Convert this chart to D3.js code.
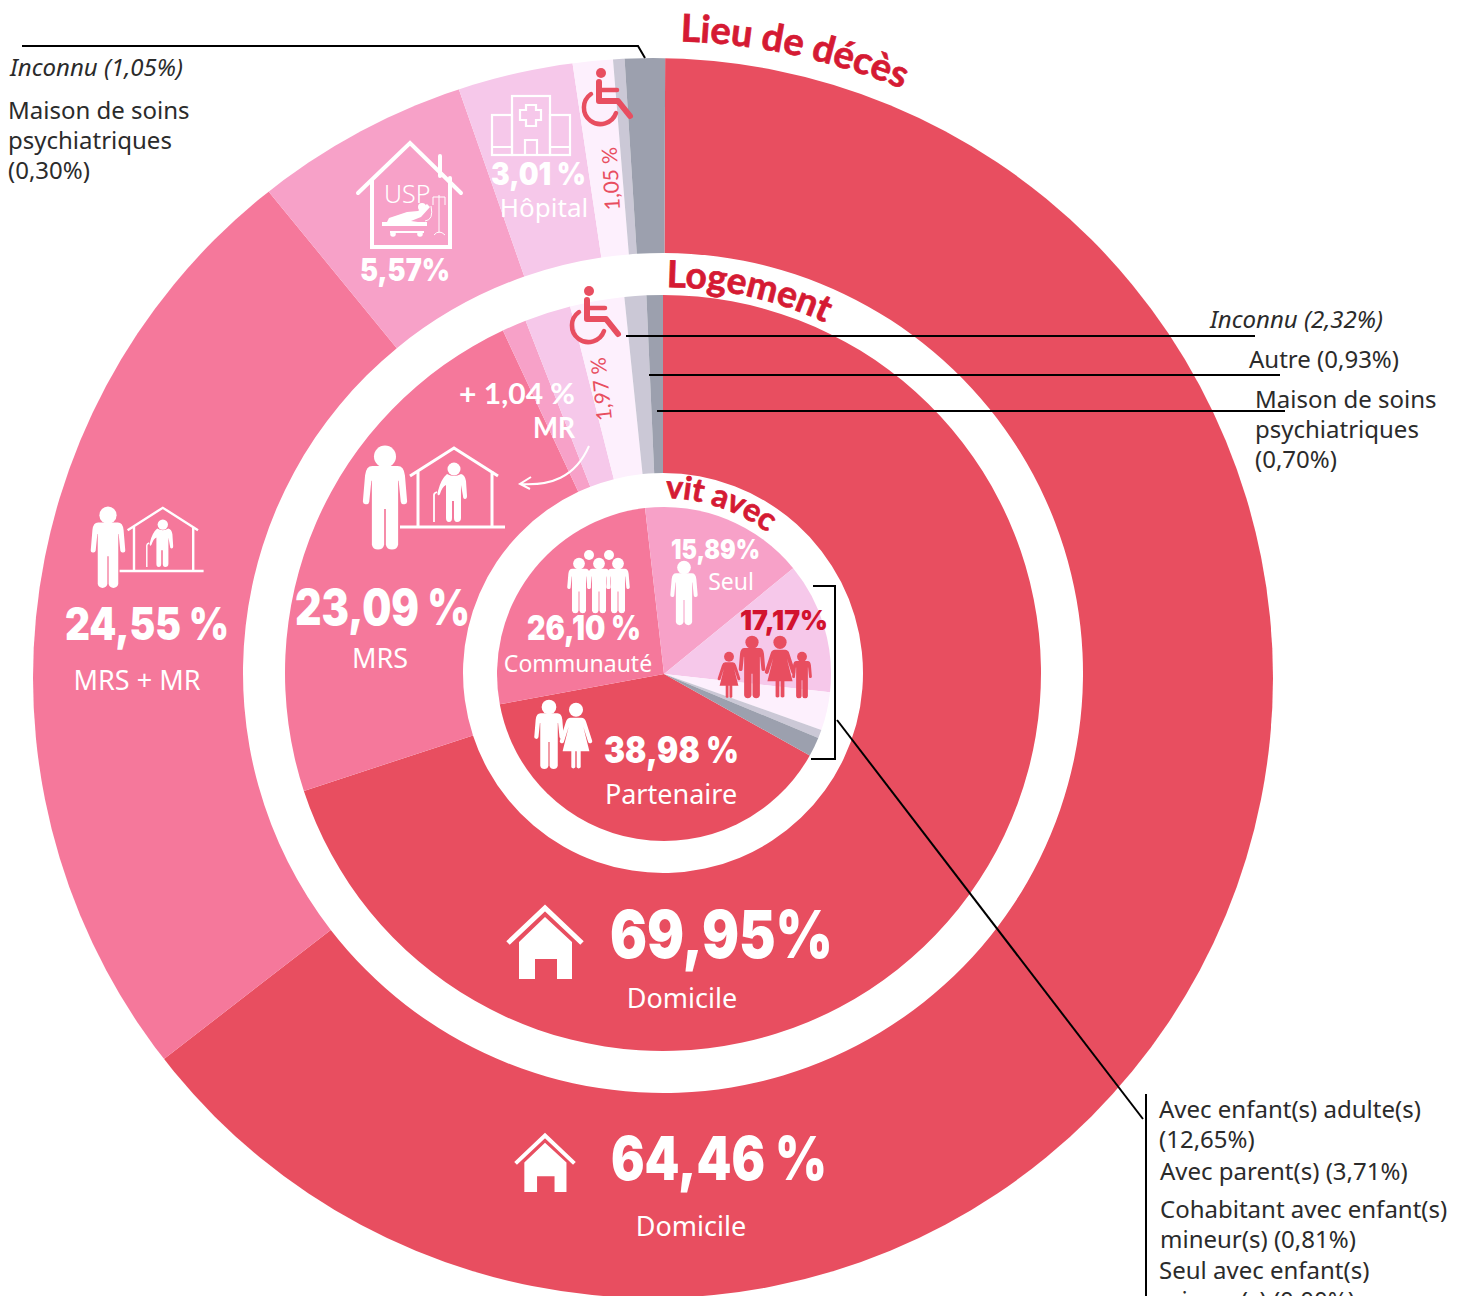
<!DOCTYPE html>
<html>
<head>
<meta charset="utf-8">
<title>Lieu de décès</title>
<script src="https://d3js.org/d3.v7.min.js"></script>
<style>
  body { margin: 0; background: white; overflow: hidden; }
  svg { display: block; }
  text { font-family: "Noto Sans", sans-serif; }
  .num { font-family: Inter, sans-serif; font-weight: 900; fill: white; }
  .lab { fill: white; }
  .note { fill: #2b2b2b; font-size: 24px; }
  .head { font-family: Lato, sans-serif; font-weight: 700; fill: #d51a33; stroke: #d51a33; stroke-width: 0.7; }
  .leader { stroke: black; stroke-width: 2; fill: none; }
</style>
</head>
<body>
<svg id="chart" width="1461" height="1296"></svg>
<script>
// lieu de deces, outer ring, clockwise from the top
const lieuValues = [64.46, 24.55, 5.57, 3.01, 1.05, 0.30, 1.05];
const lieuLabels = ["64,46 %", "24,55 %", "5,57%", "3,01 %", "1,05 %"];
const lieuNames = ["Domicile", "MRS + MR", "Hôpital"];

// logement, middle ring
const logementValues = [69.95, 23.09, 1.04, 1.97, 2.32, 0.93, 0.70];
const logementLabels = ["69,95%", "23,09 %", "+ 1,04 %", "1,97 %"];
const logementNames = ["Domicile", "MRS", "MR"];

// vit avec, inner pie, clockwise from the partenaire slice
// last value is the part the labels leave over
const vitValues = [38.98, 26.10, 15.89, 12.65, 3.71, 0.81, 1.86];
const vitLabels = ["38,98 %", "26,10 %", "15,89%", "17,17%"];
const vitNames = ["Partenaire", "Communauté", "Seul"];

const titles = ["Lieu de décès", "Logement", "vit avec"];
const notesLieu = ["Inconnu (1,05%)", "Maison de soins", "psychiatriques", "(0,30%)"];
const notesLogement = ["Inconnu (2,32%)", "Autre (0,93%)", "Maison de soins", "psychiatriques", "(0,70%)"];
const notesVit = ["Avec enfant(s) adulte(s)", "(12,65%)", "Avec parent(s) (3,71%)",
                  "Cohabitant avec enfant(s)", "mineur(s) (0,81%)", "Seul avec enfant(s)", "mineur(s) (0,00%)"];

const colors = ["#e84e60", "#f5789b", "#f7a1c8", "#f6c8ea", "#fdf0fd", "#cbc8d6", "#9ca0ae"];
const red = "#e84e60";
const darkRed = "#d2122e";

const svg = d3.select("#chart");
const cx = 663, cy = 673;
const deg = Math.PI / 180;

const ring = function(values, start, r0, r1, parent) {
    const pie = d3.pie().sort(null).startAngle(start * deg).endAngle(start * deg + 2 * Math.PI);
    const arc = d3.arc().innerRadius(r0).outerRadius(r1);
    parent.selectAll("path").data(pie(values))
        .join("path")
        .attr("d", arc)
        .attr("fill", (d, i) => colors[i]);
};

// outer ring is not concentric with the rest, so clip big wedges to its circle
svg.append("clipPath").attr("id", "outerClip")
    .append("circle").attr("cx", 653).attr("cy", 678).attr("r", 620);
const outer = svg.append("g").attr("clip-path", "url(#outerClip)")
    .append("g").attr("transform", `translate(${cx},${cy})`);
ring(lieuValues, 0.2, 420, 900, outer);

const middle = svg.append("g").attr("transform", `translate(${cx},${cy})`);
ring(logementValues, 0, 200, 378, middle);

const inner = svg.append("g").attr("transform", `translate(${cx + 1},${cy + 1})`);
ring(vitValues, 119.2, 0, 167, inner);

// ---- icons, drawn in their own little coordinate systems
const manBody = "M-12,19 L12,19 Q18,19 19,28 L21,52 A3,3 0 0 1 15,53 L13,33 L12.5,33 L12.5,94 A6,6 0 0 1 0.8,94 L0.8,60 L-0.8,60 L-0.8,94 A6,6 0 0 1 -12.5,94 L-12.5,33 L-13,33 L-15,53 A3,3 0 0 1 -21,52 L-19,28 Q-18,19 -12,19 Z";
const womanBody = "M-8,22 L8,22 Q13,22 15,28 L24,56 A3,3 0 0 1 18,58 L11,36 L20,72 L7,72 L7,96 A3.5,3.5 0 0 1 1,96 L1,72 L-1,72 L-1,96 A3.5,3.5 0 0 1 -7,96 L-7,72 L-20,72 L-11,36 L-18,58 A3,3 0 0 1 -24,56 L-15,28 Q-13,22 -8,22 Z";

const person = function(x, top, h, fill, body) {
    const g = svg.append("g").attr("transform", `translate(${x},${top}) scale(${h / 100})`).attr("fill", fill);
    g.append("circle").attr("cy", 10).attr("r", 10.5);
    g.append("path").attr("d", body || manBody);
};

const home = function(x, top, w) {
    const s = w / 78;
    const g = svg.append("g").attr("transform", `translate(${x},${top}) scale(${s})`);
    g.append("path").attr("fill", "none").attr("stroke", "white").attr("stroke-width", 5)
        .attr("d", "M-37,37 L0,2 L37,37");
    g.append("path").attr("fill", "white")
        .attr("d", "M0,11 L-26,36 L-26,73 L-10,73 L-10,53 L12,53 L12,73 L27,73 L27,36 Z");
};

const wheelchair = function(x, y) {
    const g = svg.append("g").attr("transform", `translate(${x},${y})`)
        .attr("fill", "none").attr("stroke", red).attr("stroke-width", 4.5).attr("stroke-linecap", "round").attr("stroke-linejoin", "round");
    g.append("circle").attr("cx", 1).attr("cy", -35).attr("r", 5).attr("fill", red).attr("stroke", "none");
    g.append("path").attr("stroke-width", 6).attr("d", "M-1,-26 L-1,-7 L18,-7 L30,8");
    g.append("path").attr("d", "M0,-18 L17,-18");
    g.append("path").attr("d", "M-9,-14 A16.5,16.5 0 1 0 16,5");
};

const elderHouse = function(x, y, s) {
    const g = svg.append("g").attr("transform", `translate(${x},${y}) scale(${s})`);
    g.append("path").attr("fill", "none").attr("stroke", "white").attr("stroke-width", 3)
        .attr("d", "M-43,29 L1,1 L45,29 M-35,24 L-35,80 M39,24 L39,80 M-53,80 L52,80");
    g.append("circle").attr("cx", 1).attr("cy", 22).attr("r", 6.5).attr("fill", "white");
    g.append("path").attr("fill", "white")
        .attr("d", "M-6,27 Q1,31 8,27 Q12,28 13,34 L14,49 Q14,52 12,52 Q10,52 10,49 L8,38 L8,71 Q8,75 4,75 Q1,75 1,71 L1,54 L-1,54 L-1,71 Q-1,75 -4,75 Q-7,75 -7,71 L-7,38 Q-11,40 -13,47 Q-14,49 -15,48 Q-16,47 -15,44 Q-12,32 -6,27 Z");
    g.append("path").attr("fill", "none").attr("stroke", "white").attr("stroke-width", 1.8)
        .attr("d", "M-19,75 L-19,48 Q-19,46 -16,45");
};

// big wedges, people and houses
home(545, 906, 78);
home(545, 1134, 62);
person(108, 507, 82, "white");
elderHouse(162, 507, 0.8);
person(385, 446, 105, "white");
elderHouse(453, 447, 1);
person(684, 561, 65, "white");

// communaute group, back row heads first
svg.selectAll("circle.back").data([589, 609]).join("circle").attr("class", "back")
    .attr("cx", d => d).attr("cy", 555).attr("r", 5).attr("fill", "white");
person(579, 558, 56, "white");
person(618, 558, 56, "white");
person(599, 558, 56, "white");

person(549, 700, 70, "white");
person(576, 703, 67, "white", womanBody);

person(752, 636, 63, red);
person(780, 636, 63, red, womanBody);
person(729, 652, 47, red, womanBody);
person(802, 652, 47, red);

wheelchair(600, 108);
wheelchair(588, 326);

// hospital
const hosp = svg.append("g").attr("fill", "none").attr("stroke", "white").attr("stroke-width", 2.2);
hosp.append("rect").attr("x", 512).attr("y", 96).attr("width", 38).attr("height", 59);
hosp.append("rect").attr("x", 492).attr("y", 115).attr("width", 20).attr("height", 40);
hosp.append("rect").attr("x", 550).attr("y", 115).attr("width", 20).attr("height", 40);
hosp.append("path").attr("d", "M492,147 L512,147 M550,147 L570,147 M525,155 L525,140 L537,140 L537,155");
hosp.append("path").attr("d", "M526,105 L536,105 L536,110 L541,110 L541,120 L536,120 L536,126 L526,126 L526,120 L520,120 L520,110 L526,110 Z");

// usp house with bed and drip
const usp = svg.append("g");
usp.append("path").attr("fill", "none").attr("stroke", "white").attr("stroke-width", 4).attr("stroke-linecap", "round")
    .attr("d", "M358,193 L410,143 L461,193 M372,180 L372,247 L450,247 L450,178 M440,156 L440,176");
usp.append("text").attr("class", "lab").attr("x", 384).attr("y", 203).style("font-size", "25px").style("font-weight", 300).text("USP");
usp.append("circle").attr("cx", 422).attr("cy", 207).attr("r", 4).attr("fill", "white");
usp.append("path").attr("fill", "white")
    .attr("d", "M382,222 L427,222 L427,226 L382,226 Z M390,231 L424,231 L424,233 L390,233 Z M387,222 L389,218 L407,212 L418,211 L427,204 L430,207 L421,217 L411,221 L418,222 Z");
usp.append("circle").attr("cx", 393).attr("cy", 234).attr("r", 2.8).attr("fill", "white");
usp.append("circle").attr("cx", 420).attr("cy", 234).attr("r", 2.8).attr("fill", "white");
usp.append("path").attr("fill", "none").attr("stroke", "white").attr("stroke-width", 1)
    .attr("d", "M439,195 L439,233 M433,197 L445,197 M433,197 L433,205 M445,197 L445,205 M434,235 Q439,229 445,235 M431,206 Q434,220 425,221");

// arrow from the MR label into the pink slice
svg.append("path").attr("fill", "none").attr("stroke", "white").attr("stroke-width", 2)
    .attr("d", "M589,446 C575,478 550,486 520,484 M531,477 L520,484 L530,489");

// ---- curved titles
const titlePath = function(id, x, y, r) {
    const p = d3.path();
    p.arc(x, y, r, -100 * deg, -10 * deg);
    svg.append("path").attr("id", id).attr("d", p.toString()).attr("fill", "none");
};
const curved = function(id, text, size, offset) {
    svg.append("text").attr("class", "head").style("font-size", size + "px")
        .append("textPath").attr("href", "#" + id).attr("startOffset", offset).text(text);
};
titlePath("t1", 660, 676, 635);
titlePath("t2", cx, cy, 386);
titlePath("t3", cx, cy, 175);
curved("t1", titles[0], 38, 131);
curved("t2", titles[1], 37, 71);
curved("t3", titles[2], 32, 33);

// ---- labels
const label = function(cls, x, y, size, text, anchor, fill, width) {
    const t = svg.append("text").attr("class", cls)
        .attr("x", x).attr("y", y)
        .attr("text-anchor", anchor || "start")
        .style("font-size", size + "px")
        .style("fill", fill || null)
        .text(text);
    if (width) t.attr("textLength", width).attr("lengthAdjust", "spacingAndGlyphs");
    return t;
};

label("num", 611, 1180, 60, lieuLabels[0], "start", null, 216);
label("lab", 691, 1236, 27, lieuNames[0], "middle");
label("num", 65, 640, 45, lieuLabels[1], "start", null, 164);
label("lab", 137, 690, 27, lieuNames[1], "middle");
label("num", 360, 281, 31, lieuLabels[2], "start", null, 90);
label("num", 491, 185, 31, lieuLabels[3], "start", null, 95);
label("lab", 544, 217, 26, lieuNames[2], "middle");

label("num", 610, 958, 66, logementLabels[0], "start", null, 223);
label("lab", 682, 1008, 27, logementNames[0], "middle");
label("num", 295, 625, 49, logementLabels[1], "start", null, 175);
label("lab", 380, 668, 27, logementNames[1], "middle");
label("num", 459, 404, 29, logementLabels[2], "start", null, 116).style("font-family", "Lato").style("font-weight", 700);
label("num", 533, 438, 29, logementNames[2], "start", null, 42).style("font-family", "Lato").style("font-weight", 700);

label("num", 604, 763, 37, vitLabels[0], "start", null, 135);
label("lab", 671, 804, 27, vitNames[0], "middle");
label("num", 527, 640, 34, vitLabels[1], "start", null, 114);
label("lab", 578, 672, 23, vitNames[1], "middle");
label("num", 671, 559, 27, vitLabels[2], "start", null, 89);
label("lab", 731, 590, 23, vitNames[2], "middle");
label("num", 740, 630, 27, vitLabels[3], "start", darkRed, 88);

// rotated small percentages
svg.append("text").attr("transform", "translate(620,210) rotate(-93)")
    .style("font-size", "21px").style("fill", red).style("font-family", "Lato").text(lieuLabels[4]);
svg.append("text").attr("transform", "translate(612,420) rotate(-96)")
    .style("font-size", "21px").style("fill", red).style("font-family", "Lato").text(logementLabels[3]);

// ---- side notes and leader lines
const leaders = [
    "M22,46 L638,46 L645,58",
    "M626,336 L1255,336",
    "M649,375 L1280,375",
    "M657,411 L1285,411",
    "M813,586 L835,586 L835,759 L811,759",
    "M837,720 L1143,1119",
    "M1146,1094 L1146,1296"
];
svg.selectAll("path.leader").data(leaders).join("path").attr("class", "leader").attr("d", d => d);

const note = function(x, y, text, italic) {
    svg.append("text").attr("class", "note").attr("x", x).attr("y", y)
        .style("font-style", italic ? "italic" : null).text(text);
};
note(10, 76, notesLieu[0], true);
note(8, 119, notesLieu[1]);
note(8, 149, notesLieu[2]);
note(8, 179, notesLieu[3]);

note(1210, 328, notesLogement[0], true);
note(1249, 368, notesLogement[1]);
note(1255, 408, notesLogement[2]);
note(1255, 438, notesLogement[3]);
note(1255, 468, notesLogement[4]);

note(1159, 1118, notesVit[0]);
note(1159, 1148, notesVit[1]);
note(1160, 1180, notesVit[2]);
note(1160, 1218, notesVit[3]);
note(1160, 1248, notesVit[4]);
note(1159, 1279, notesVit[5]);
note(1159, 1309, notesVit[6]);
</script>
</body>
</html>
